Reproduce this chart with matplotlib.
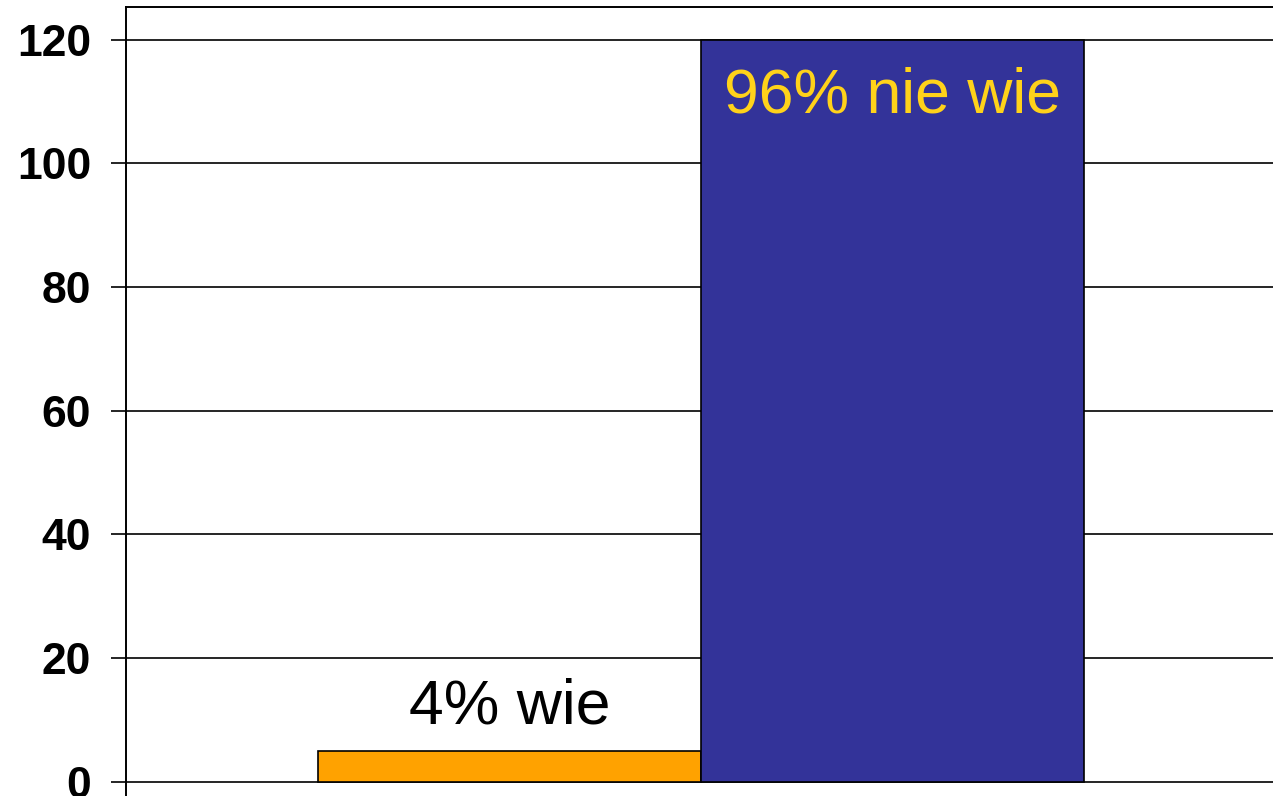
import numpy as np
import matplotlib.pyplot as plt

categories = ["wie", "nie wie"]
values = [5, 120]
labels = ["4% wie", "96% nie wie"]
bar_colors = ["#FFA200", "#333399"]
label_colors = ["black", "#FFD21A"]
yticks = [0, 20, 40, 60, 80, 100, 120]

plt.rcParams['font.family'] = ['Liberation Sans', 'DejaVu Sans']

fig = plt.figure(figsize=(12.73, 7.96), dpi=100)
ax = fig.add_axes([126 / 1273, 0, 1150 / 1273, 789 / 796])

x = np.arange(len(values))
ax.bar(x, values, width=1.0, color=bar_colors, edgecolor="black", linewidth=1.2, zorder=3)

# bar labels
ax.text(x[0], values[0] + 4.5, labels[0], ha="center", va="baseline",
        fontsize=45, color=label_colors[0], zorder=4)
ax.text(x[1], values[1] - 11.8, labels[1], ha="center", va="baseline",
        fontsize=45, color=label_colors[1], zorder=4)

ax.set_xlim(-1, 2)
ax.set_ylim(-2.3, 125.3)
ax.set_yticks(yticks)
ax.set_xticks([])
ax.grid(axis="y", color="black", linewidth=1.2, zorder=0)
ax.tick_params(axis="y", length=11, width=1.2, pad=14, labelsize=32)
for t in ax.get_yticklabels():
    t.set_fontweight("bold")

ax.spines["right"].set_visible(False)
ax.spines["bottom"].set_visible(False)
ax.spines["left"].set_linewidth(1.4)
ax.spines["top"].set_linewidth(1.4)

fig.savefig("out.png", dpi=100)
